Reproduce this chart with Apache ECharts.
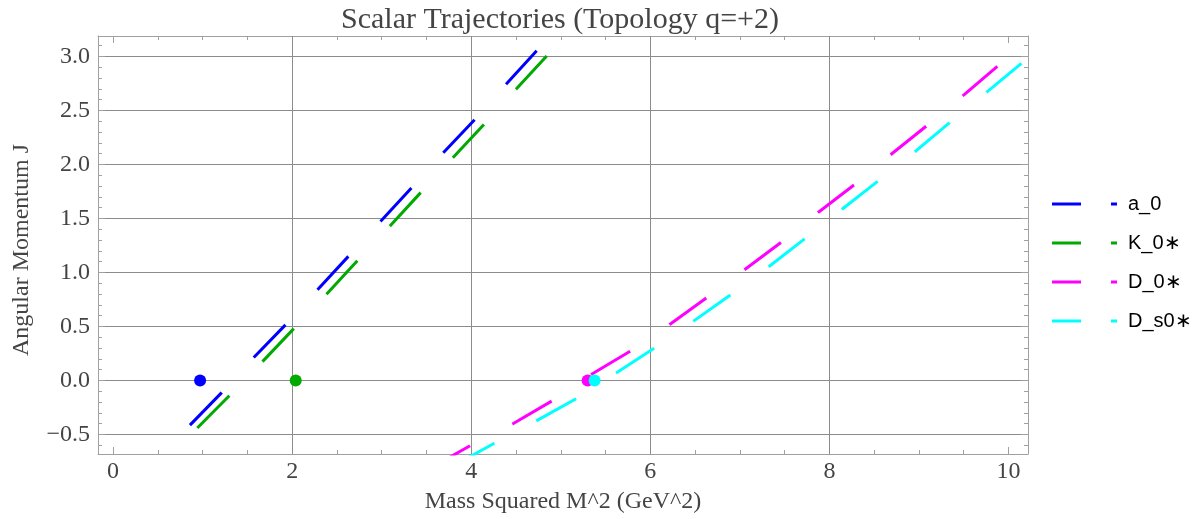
<!DOCTYPE html>
<html>
<head>
<meta charset="utf-8">
<title>Scalar Trajectories</title>
<script src="https://cdn.jsdelivr.net/npm/echarts@6/dist/echarts.min.js"></script>
<style>
html, body { margin: 0; padding: 0; background: #fff; }
#main { width: 1192px; height: 519px; }
</style>
</head>
<body>
<div id="main"></div>
<script>
// 名称 / 颜色
const names = ['a_0', 'K_0∗', 'D_0∗', 'D_s0∗'];
const colors = ['#0000ff', '#00aa00', '#ff00ff', '#00ffff'];

// trajectories, read along the dashes: M^2 (GeV^2) and J
const aM2 = [0.859, 1.213, 1.574, 1.928, 2.282, 2.632, 2.989, 3.335, 3.688, 4.042, 4.389, 4.731];
const aJ  = [-0.414, -0.113, 0.215, 0.517, 0.838, 1.153, 1.474, 1.785, 2.109, 2.418, 2.744, 3.053];
const kM2 = [0.941, 1.298, 1.668, 2.022, 2.386, 2.728, 3.093, 3.436, 3.800, 4.143, 4.500, 4.843];
const kJ  = [-0.440, -0.141, 0.174, 0.483, 0.801, 1.109, 1.431, 1.740, 2.067, 2.372, 2.696, 3.004];
const dM2 = [3.545, 3.987, 4.461, 4.901, 5.349, 5.781, 6.224, 6.635, 7.063, 7.470, 7.885, 8.288, 8.704, 9.098, 9.509, 9.894];
const dJ  = [-0.812, -0.604, -0.403, -0.190, 0.060, 0.273, 0.523, 0.770, 1.032, 1.285, 1.563, 1.819, 2.104, 2.366, 2.650, 2.921];
const sM2 = [3.814, 4.258, 4.724, 5.175, 5.623, 6.050, 6.487, 6.906, 7.333, 7.736, 8.155, 8.557, 8.973, 9.368, 9.774, 10.164];
const sJ  = [-0.785, -0.581, -0.376, -0.168, 0.072, 0.303, 0.552, 0.799, 1.060, 1.319, 1.595, 1.856, 2.130, 2.406, 2.681, 2.949];

// ground states at J = 0
const groundM2 = [0.972, 2.040, 5.300, 5.378];
const groundJ = [0, 0, 0, 0];

// gridlines along x
const xGrid = [2, 4, 6, 8];

const xMin = -0.168, xMax = 10.218;
const yMin = -0.681, yMax = 3.19;

const trajM2 = [aM2, kM2, dM2, sM2];
const trajJ = [aJ, kJ, dJ, sJ];

let pairs = (xs, ys) => xs.map((x, i) => [x, ys[i]]);

const serif = 'Liberation Serif';
const frameColor = '#a0a0a0';
const gridColor = '#8c8c8c';
const labelColor = '#444';
// legend sample: long dash + short dash
const legendIcon = 'path://M0,0H29V3H0Z M59,0H65V3H59Z';

let frameAxis = (extra) => Object.assign({
    type: 'value',
    axisLine: { show: true, onZero: false, lineStyle: { color: frameColor, width: 1 } },
    axisTick: { show: true, inside: true, length: 7, lineStyle: { color: frameColor } },
    minorTick: { show: true, length: 4, lineStyle: { color: frameColor } },
    splitLine: { show: false },
    axisLabel: { show: false }
}, extra);

let lineSeries = names.map((n, i) => ({
    name: n,
    type: 'line',
    data: pairs(trajM2[i], trajJ[i]),
    symbol: 'none',
    clip: true,
    silent: true,
    z: 2,
    color: colors[i],
    itemStyle: { color: colors[i] },
    lineStyle: { color: colors[i], width: 3, type: [45.5, 47.5], cap: 'butt' },
    emphasis: { disabled: true }
}));

// vertical gridlines
lineSeries[0].markLine = {
    silent: true,
    symbol: 'none',
    z: 1,
    label: { show: false },
    lineStyle: { color: gridColor, width: 1, type: 'solid' },
    emphasis: { disabled: true },
    data: xGrid.map(v => ({ xAxis: v }))
};

let pointSeries = names.map((n, i) => ({
    name: n + ' ground',
    type: 'scatter',
    data: [[groundM2[i], groundJ[i]]],
    symbol: 'circle',
    symbolSize: 12,
    silent: true,
    z: 3,
    itemStyle: { color: colors[i], opacity: 1 },
    emphasis: { disabled: true }
}));

let myChart = echarts.init(document.getElementById('main'), null, { renderer: 'canvas' });
let option = {
    animation: false,
    backgroundColor: '#fff',
    title: {
        text: 'Scalar Trajectories (Topology q=+2)',
        left: 555,
        top: 0,
        textAlign: 'center',
        textStyle: { fontFamily: serif, fontSize: 30, fontWeight: 'normal', color: labelColor }
    },
    legend: {
        data: names.map(n => ({ name: n, icon: legendIcon })),
        orient: 'vertical',
        left: 1047,
        top: 189,
        itemWidth: 65,
        itemHeight: 3,
        itemGap: 19,
        selectedMode: false,
        textStyle: { fontFamily: 'Liberation Sans', fontSize: 20, color: '#000', padding: [0, 0, 0, 6] }
    },
    grid: { left: 98, right: 164, top: 36, bottom: 65, containLabel: false },
    xAxis: [
        frameAxis({
            position: 'bottom',
            min: xMin, max: xMax, splitNumber: 5,
            minorTick: { show: true, splitNumber: 4, length: 4, lineStyle: { color: frameColor } },
            axisLabel: {
                show: true, showMinLabel: false, showMaxLabel: false, margin: 6,
                fontFamily: serif, fontSize: 24, color: labelColor,
                formatter: v => String(v)
            },
            name: 'Mass Squared M^2 (GeV^2)',
            nameLocation: 'middle',
            nameGap: 36,
            nameTextStyle: { fontFamily: serif, fontSize: 24, color: labelColor }
        }),
        frameAxis({
            position: 'top',
            min: xMin, max: xMax, splitNumber: 5,
            minorTick: { show: true, splitNumber: 4, length: 4, lineStyle: { color: frameColor } }
        })
    ],
    yAxis: [
        frameAxis({
            position: 'left',
            min: yMin, max: yMax, splitNumber: 8,
            minorTick: { show: true, splitNumber: 5, length: 4, lineStyle: { color: frameColor } },
            splitLine: { show: true, lineStyle: { color: gridColor, width: 1 } },
            axisLabel: {
                show: true, showMinLabel: false, showMaxLabel: false, margin: 8,
                fontFamily: serif, fontSize: 24, color: labelColor,
                formatter: v => v.toFixed(1).replace('-', '\u2212')
            },
            name: 'Angular Momentum J',
            nameLocation: 'middle',
            nameGap: 64,
            nameTextStyle: { fontFamily: serif, fontSize: 24, color: labelColor, padding: [0, 10, 0, 0] }
        }),
        frameAxis({
            position: 'right',
            min: yMin, max: yMax, splitNumber: 8,
            minorTick: { show: true, splitNumber: 5, length: 4, lineStyle: { color: frameColor } }
        })
    ],
    series: lineSeries.concat(pointSeries)
};
myChart.setOption(option);
window.addEventListener('resize', function () {
    myChart.resize();
});
</script>
</body>
</html>
